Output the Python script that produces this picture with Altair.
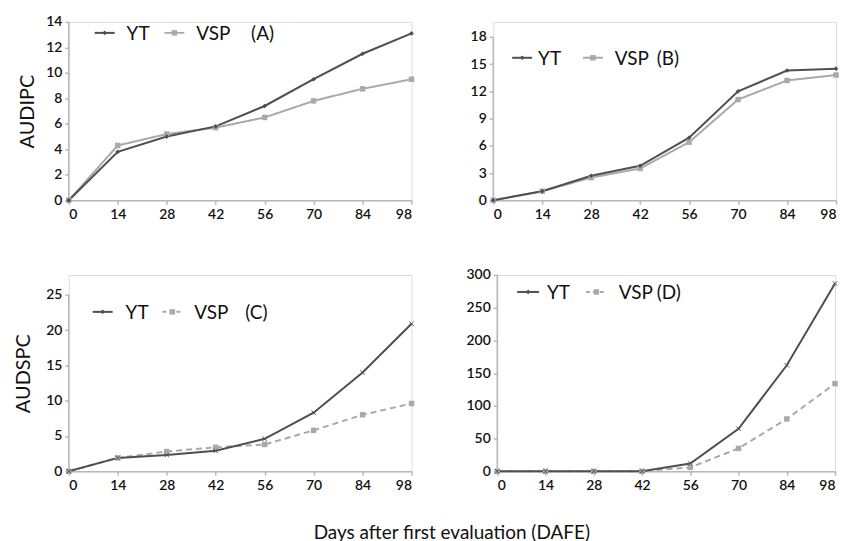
import altair as alt
import pandas as pd

days = [0, 14, 28, 42, 56, 70, 84, 98]

a_yt = [0, 3.8, 5.0, 5.8, 7.4, 9.5, 11.5, 13.1]
a_vsp = [0, 4.3, 5.2, 5.7, 6.5, 7.8, 8.75, 9.5]
b_yt = [0, 1.0, 2.7, 3.8, 6.9, 12.0, 14.3, 14.5]
b_vsp = [0, 1.0, 2.5, 3.5, 6.4, 11.1, 13.2, 13.8]
c_yt = [0, 1.9, 2.3, 2.9, 4.6, 8.3, 14.0, 20.9]
c_vsp = [0, 1.9, 2.8, 3.4, 3.8, 5.8, 8.0, 9.6]
d_yt = [0, 0, 0, 0, 12, 65, 162, 287]
d_vsp = [0, 0, 0, 0, 6, 35, 80, 134]

series_names = ["YT", "VSP"]
panel_tags = ["(A)", "(B)", "(C)", "(D)"]
y_titles = ["AUDIPC", "", "AUDSPC", ""]
y_ticks = [
    [0, 2, 4, 6, 8, 10, 12, 14],
    [0, 3, 6, 9, 12, 15, 18],
    [0, 5, 10, 15, 20, 25],
    [0, 50, 100, 150, 200, 250, 300],
]

DARK = "#4f4f4f"
LIGHT = "#a9a9a9"
AXIS = "#b8b8b8"
FONT = "Lato"
CROSS = "M-1,-1L1,1M1,-1L-1,1"


def panel(yt, vsp, tick_vals, dom_max, width, height, ytitle, tag, dashed, cross, leg, tpad=8):
    df = pd.DataFrame({
        "day": days * 2,
        "val": yt + vsp,
        "series": [series_names[0]] * len(days) + [series_names[1]] * len(days),
        "top": [tick_vals[-1]] * (2 * len(days)),
    })
    base = alt.Chart(df)
    x = alt.X("day:Q", scale=alt.Scale(domain=[0, 98], nice=False),
              axis=alt.Axis(values=days, title=None, grid=False, domainColor=AXIS,
                            domainWidth=1.5, tickColor=AXIS, tickSize=4, tickWidth=1.5,
                            labelPadding=3, labelFont=FONT, labelFontSize=14,
                            labelColor="#111", labelFontWeight=600, labelOverlap=False))
    yaxis_kwargs = dict(values=tick_vals, grid=False, domain=False, tickColor=AXIS,
                        tickSize=4, tickWidth=1.5, labelPadding=3, labelFont=FONT,
                        labelFontSize=14, labelColor="#111", labelFontWeight=600,
                        labelOverlap=False)
    if ytitle:
        yaxis_kwargs.update(title=ytitle, titleFont=FONT, titleFontSize=20,
                            titleFontWeight="normal", titleColor="#111", titlePadding=tpad)
    else:
        yaxis_kwargs.update(title=None)
    yscale = alt.Scale(domain=[0, dom_max], nice=False)
    y = alt.Y("val:Q", scale=yscale, axis=alt.Axis(**yaxis_kwargs))

    yt_df = base.transform_filter(alt.datum.series == "YT")
    vsp_df = base.transform_filter(alt.datum.series == "VSP")
    vsp_line = vsp_df.mark_line(color=LIGHT, strokeWidth=2,
                                strokeDash=[6, 4] if dashed else [1, 0]).encode(x=x, y=y)
    vsp_pts = vsp_df.mark_point(shape="square", filled=True, color=LIGHT, size=30,
                                opacity=1).encode(x=x, y=y)
    yt_line = yt_df.mark_line(color=DARK, strokeWidth=2).encode(x=x, y=y)
    if cross:
        yt_pts = yt_df.mark_point(shape=CROSS, filled=False, color=DARK, size=20,
                                  strokeWidth=1, opacity=1).encode(x=x, y=y)
    else:
        yt_pts = yt_df.mark_point(shape="diamond", filled=True, color=DARK, size=22,
                                  opacity=1).encode(x=x, y=y)

    # left axis line from 0 up to the top tick (first row gives val = 0)
    yaxis_line = base.transform_filter(
        (alt.datum.series == "YT") & (alt.datum.day == 0)
    ).mark_rule(color=AXIS, strokeWidth=1.5).encode(x=x, y=y, y2="top:Q")

    one = alt.Chart(pd.DataFrame({"k": [0]}))
    l_x1, l_x2, l_y, yt_tx, v_x1, v_x2, v_tx, tag_tx = leg
    legend = [
        one.mark_rule(color=DARK, strokeWidth=2).encode(
            x=alt.value(l_x1), x2=alt.value(l_x2), y=alt.value(l_y)),
        one.mark_point(shape="diamond", filled=True, color=DARK, size=22, opacity=1).encode(
            x=alt.value((l_x1 + l_x2) / 2), y=alt.value(l_y)),
        one.mark_text(text=series_names[0], align="left", baseline="middle", font=FONT,
                      fontSize=19, color="#111").encode(x=alt.value(yt_tx), y=alt.value(l_y + 1)),
        one.mark_rule(color=LIGHT, strokeWidth=2,
                      strokeDash=[4, 3] if dashed else [1, 0]).encode(
            x=alt.value(v_x1), x2=alt.value(v_x2), y=alt.value(l_y)),
        one.mark_point(shape="square", filled=True, color=LIGHT, size=30, opacity=1).encode(
            x=alt.value((v_x1 + v_x2) / 2), y=alt.value(l_y)),
        one.mark_text(text=series_names[1], align="left", baseline="middle", font=FONT,
                      fontSize=19, color="#111").encode(x=alt.value(v_tx), y=alt.value(l_y + 1)),
        one.mark_text(text=tag, align="left", baseline="middle", font=FONT,
                      fontSize=19, color="#111").encode(x=alt.value(tag_tx), y=alt.value(l_y + 1)),
    ]
    return alt.layer(yaxis_line, vsp_line, yt_line, vsp_pts, yt_pts, *legend).properties(
        width=width, height=height)


pA = panel(a_yt, a_vsp, y_ticks[0], 14, 344, 179, y_titles[0], panel_tags[0], False, False,
           (26, 46, 11, 58, 96, 116, 128, 183))
pB = panel(b_yt, b_vsp, y_ticks[1], 19.65, 344, 179, y_titles[1], panel_tags[1], False, False,
           (19, 39, 36, 45, 90, 110, 122, 164))
pC = panel(c_yt, c_vsp, y_ticks[2], 27.8, 344, 197, y_titles[2], panel_tags[2], True, True,
           (24, 44, 37, 57, 94, 114, 126, 177), tpad=12)
pD = panel(d_yt, d_vsp, y_ticks[3], 300, 339, 197, y_titles[3], panel_tags[3], True, True,
           (20, 42, 17, 50, 89, 110, 122, 160))

chart = alt.vconcat(
    alt.hconcat(pA, pB, spacing=53),
    alt.hconcat(pC, pD, spacing=49),
    spacing=45,
).properties(
    title=alt.TitleParams("Days after first evaluation (DAFE)", orient="bottom",
                          anchor="middle", font=FONT, fontSize=19, fontWeight="normal",
                          color="#111", offset=31, dx=25),
    padding={"left": 5, "top": 5, "right": 0, "bottom": 0},
).configure_view(stroke=None).configure(background="white")

chart.save("out.html", embed_options={"renderer": "svg", "actions": False})
